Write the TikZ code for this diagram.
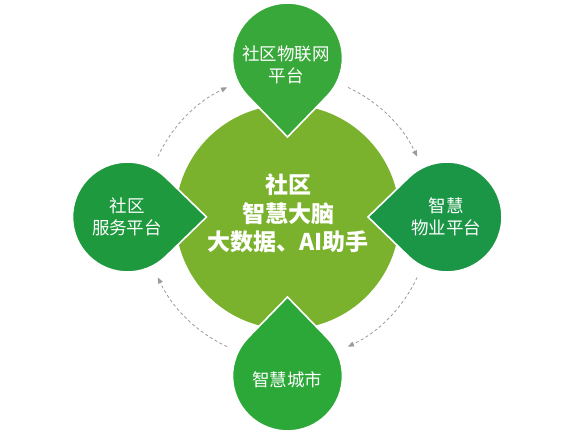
\documentclass[tikz,border=0pt]{standalone}
\usepackage{fontspec}
\newfontfamily\cjk{Noto Sans CJK SC}
\usetikzlibrary{arrows.meta,calc}
\definecolor{hubgreen}{RGB}{122,178,45}
\definecolor{dropA}{RGB}{55,168,57}
\definecolor{dropB}{RGB}{30,153,62}
\definecolor{dropC}{RGB}{26,150,70}
\definecolor{dropD}{RGB}{44,168,56}
\definecolor{flowgray}{RGB}{155,155,155}
\tikzset{
  hubnode/.style={circle,fill=hubgreen,minimum size=224pt,inner sep=0pt,align=center,text=white,font=\cjk\bfseries\fontsize{23}{28.5}\selectfont},
  dropshape/.style={draw=white,line width=1.6pt,line join=miter},
  droptext/.style={align=center,text=white,inner sep=0pt,font=\cjk\fontsize{17.5}{22}\selectfont},
  flow/.style={draw=flowgray,line width=0.8pt,dash pattern=on 3pt off 2.5pt,-{Triangle[length=6pt,width=5pt]}}
}
\begin{document}
\begin{tikzpicture}[x=1pt,y=1pt]
\useasboundingbox[fill=white] (0,0) rectangle (582,438);
% hub
\node[hubnode] (hub) at (287.5,221) {};
% drop centres
\coordinate (dt) at (287.5,380);
\coordinate (dl) at (127.5,221);
\coordinate (dr) at (447,221);
\coordinate (db) at (287.5,62);
% drops (tip towards hub)
\draw[dropshape,fill=dropA] ($(dt)+(-90:79)$) -- ($(dt)+(-44.1:55)$) arc[start angle=-44.1,end angle=224.1,radius=55] -- cycle;
\draw[dropshape,fill=dropB] ($(dl)+(0:79)$) -- ($(dl)+(45.9:55)$) arc[start angle=45.9,end angle=314.1,radius=55] -- cycle;
\draw[dropshape,fill=dropC] ($(dr)+(180:79)$) -- ($(dr)+(225.9:55)$) arc[start angle=225.9,end angle=494.1,radius=55] -- cycle;
\draw[dropshape,fill=dropD] ($(db)+(90:79)$) -- ($(db)+(135.9:55)$) arc[start angle=135.9,end angle=404.1,radius=55] -- cycle;
% texts
\node[hubnode,fill=none] (hubtext) at (288,224.5) {社区\\智慧大脑\\大数据、AI助手};
\node[droptext] (top) at (286,373.5) {社区物联网\\平台};
\node[droptext] (left) at (127,221) {社区\\服务平台};
\node[droptext] (right) at (446,221) {智慧\\物业平台};
\node[droptext] (bottom) at (287,58) {智慧城市};
% flow arcs
\coordinate (f1) at ($(hub.center)+(155:143)$);
\coordinate (f2) at ($(hub.center)+(65:143)$);
\coordinate (f3) at ($(hub.center)+(-25:143)$);
\coordinate (f4) at ($(hub.center)+(-115:143)$);
\draw[flow] (f1) arc[start angle=155,end angle=115,radius=143];
\draw[flow] (f2) arc[start angle=65,end angle=25,radius=143];
\draw[flow] (f3) arc[start angle=-25,end angle=-65,radius=143];
\draw[flow] (f4) arc[start angle=-115,end angle=-155,radius=143];
\end{tikzpicture}
\end{document}
